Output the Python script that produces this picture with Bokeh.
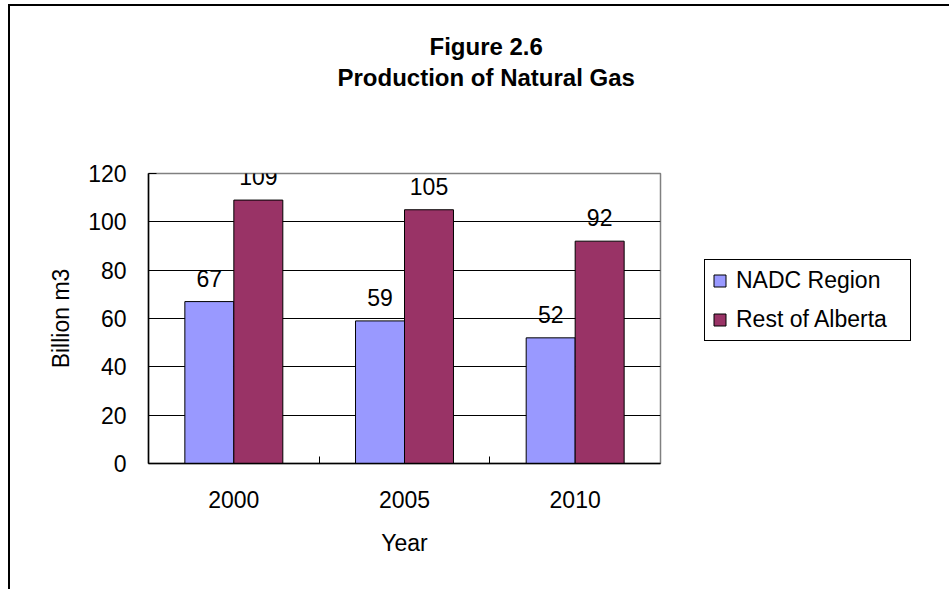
from bokeh.plotting import figure
from bokeh.models import (ColumnDataSource, FixedTicker, Range1d, Legend,
                          LegendItem, LabelSet, Title)
from bokeh.core.properties import value
from bokeh.embed import file_html
from bokeh.resources import INLINE

# ---- data ----
years = ["2000", "2005", "2010"]
nadc = [67, 59, 52]
rest = [109, 105, 92]
series_names = ["NADC Region", "Rest of Alberta"]
title_lines = ["Figure 2.6", "Production of Natural Gas"]
y_ticks = [0, 20, 40, 60, 80, 100, 120]
x_title = "Year"
y_title = "Billion m3"

FONT = "Liberation Sans"
C_NADC = "#9999FF"
C_REST = "#993366"
BAR_W = 0.287

idx = list(range(len(years)))
centers = [i + 0.5 for i in idx]
bounds = [i for i in range(1, len(years))]

src = ColumnDataSource(dict(
    x_n=[c - BAR_W / 2 for c in centers],
    x_r=[c + BAR_W / 2 for c in centers],
    nadc=nadc, rest=rest,
    nadc_lbl=[str(v) for v in nadc],
    rest_lbl=[str(v) for v in rest],
))

p = figure(frame_width=512, frame_height=290,
           min_border_left=138, min_border_right=287,
           min_border_top=167, min_border_bottom=126,
           x_range=Range1d(0, len(years)), y_range=Range1d(0, 120),
           output_backend="svg", toolbar_location=None, tools="",
           background_fill_color="white", border_fill_color="white",
           styles={"margin-left": "8px", "margin-top": "4px",
                   "border-left": "2px solid black",
                   "border-top": "2px solid black"})

p.outline_line_color = "#808080"
p.outline_line_width = 1.5

# grid
p.xgrid.visible = False
p.ygrid.ticker = FixedTicker(ticks=y_ticks[1:-1])
p.ygrid.grid_line_color = "black"
p.ygrid.grid_line_width = 1

# x axis
p.xaxis.ticker = FixedTicker(ticks=centers, minor_ticks=bounds)
p.xaxis.major_label_overrides = {c: y for c, y in zip(centers, years)}
p.xaxis.major_tick_in = 0
p.xaxis.major_tick_out = 0
p.xaxis.minor_tick_in = 7
p.xaxis.minor_tick_out = 0
p.xaxis.minor_tick_line_color = "black"
p.xaxis.minor_tick_line_width = 1
p.xaxis.axis_line_color = "black"
p.xaxis.axis_line_width = 1.5
p.xaxis.major_label_text_font = FONT
p.xaxis.major_label_text_font_size = "23px"
p.xaxis.major_label_text_color = "black"
p.xaxis.major_label_standoff = 27
p.xaxis.axis_label = x_title
p.xaxis.axis_label_text_font = FONT
p.xaxis.axis_label_text_font_size = "23px"
p.xaxis.axis_label_text_font_style = "normal"
p.xaxis.axis_label_text_color = "black"
p.xaxis.axis_label_standoff = 19

# y axis
p.yaxis.ticker = FixedTicker(ticks=y_ticks)
p.yaxis.major_tick_in = 8
p.yaxis.major_tick_out = 0
p.yaxis.major_tick_line_color = "black"
p.yaxis.minor_tick_line_color = None
p.yaxis.axis_line_color = "black"
p.yaxis.axis_line_width = 1.5
p.yaxis.major_label_text_font = FONT
p.yaxis.major_label_text_font_size = "23px"
p.yaxis.major_label_text_color = "black"
p.yaxis.major_label_standoff = 22
p.yaxis.axis_label = y_title
p.yaxis.axis_label_text_font = FONT
p.yaxis.axis_label_text_font_size = "23px"
p.yaxis.axis_label_text_font_style = "normal"
p.yaxis.axis_label_text_color = "black"
p.yaxis.axis_label_standoff = 11

# bars
r1 = p.vbar(x="x_n", top="nadc", bottom=0, width=BAR_W, source=src,
            fill_color=C_NADC, line_color="black", line_width=1)
r2 = p.vbar(x="x_r", top="rest", bottom=0, width=BAR_W, source=src,
            fill_color=C_REST, line_color="black", line_width=1)

# value labels
for xf, yf, tf in (("x_n", "nadc", "nadc_lbl"), ("x_r", "rest", "rest_lbl")):
    p.add_layout(LabelSet(x=xf, y=yf, text=tf, source=src,
                          text_align="center", text_baseline="alphabetic",
                          y_offset=15, text_font=value(FONT),
                          text_font_size=value("23px"), text_color="black"))

# titles (stacked above the frame: spacer first, nearest the frame)
p.add_layout(Title(text=" ", text_font=FONT, text_font_size="24px",
                   standoff=54), "above")
p.add_layout(Title(text=title_lines[1], text_font=FONT, text_font_size="24px",
                   text_font_style="bold", text_color="black",
                   align="left", offset=189, standoff=0), "above")
p.add_layout(Title(text=title_lines[0], text_font=FONT, text_font_size="24px",
                   text_font_style="bold", text_color="black",
                   align="left", offset=281, standoff=4), "above")

# legend
legend = Legend(items=[LegendItem(label=series_names[0], renderers=[r1]),
                       LegendItem(label=series_names[1], renderers=[r2])],
                location=(44, 122), orientation="vertical",
                border_line_color="black", border_line_width=1,
                border_line_alpha=1,
                background_fill_color="white", background_fill_alpha=1,
                label_text_font=FONT, label_text_font_size="23px",
                label_text_color="black",
                glyph_width=15, glyph_height=15, label_standoff=9,
                padding=7, spacing=12, label_height=26, label_width=167,
                margin=0)
p.add_layout(legend, "right")

open("out.html", "w").write(file_html(p, INLINE))
